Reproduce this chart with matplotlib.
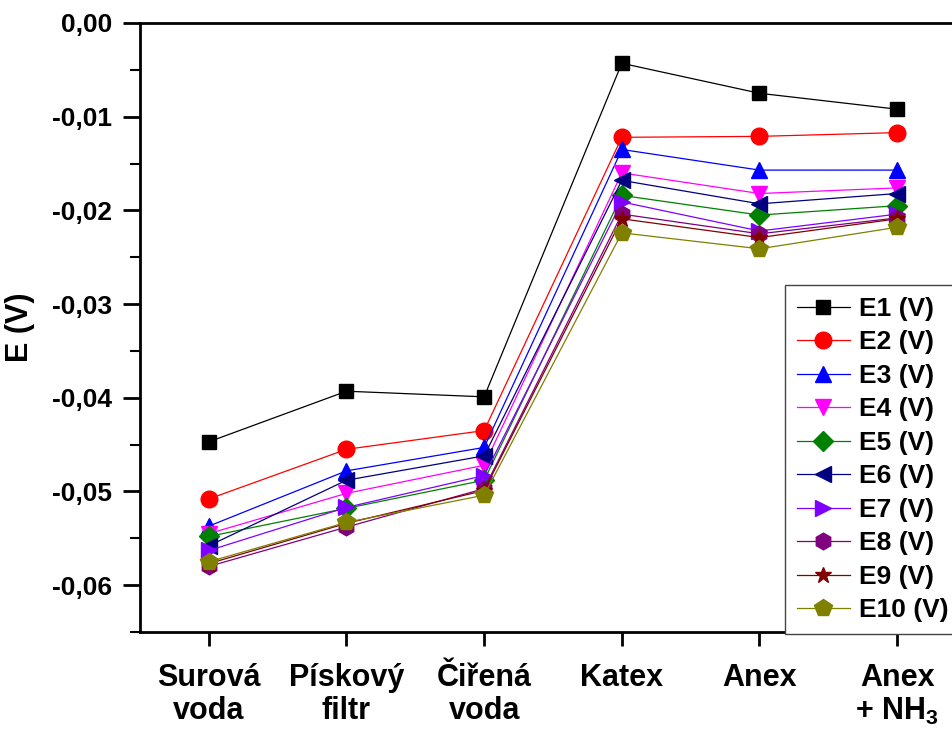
import matplotlib
matplotlib.use("Agg")
import matplotlib.pyplot as plt
from matplotlib.ticker import FixedLocator, MultipleLocator, FuncFormatter

plt.rcParams['font.family'] = ['Liberation Sans', 'DejaVu Sans']
plt.rcParams['font.weight'] = 'bold'
plt.rcParams['mathtext.fontset'] = 'custom'
plt.rcParams['mathtext.rm'] = 'Liberation Sans:bold'
plt.rcParams['mathtext.it'] = 'Liberation Sans:bold'
plt.rcParams['mathtext.bf'] = 'Liberation Sans:bold'

# Treatment stages along the water line
stages = ["Surová\nvoda", "Pískový\nfiltr", "Čiřená\nvoda", "Katex", "Anex", "Anex\n+ NH$_3$"]

# Electrode potentials (V) at each stage
E1 = [-0.0447, -0.0393, -0.0399, -0.0043, -0.0075, -0.0092]
E2 = [-0.0508, -0.0455, -0.0435, -0.0122, -0.0121, -0.0117]
E3 = [-0.0537, -0.0478, -0.0453, -0.0135, -0.0157, -0.0157]
E4 = [-0.0545, -0.0502, -0.0472, -0.0160, -0.0182, -0.0176]
E5 = [-0.0548, -0.0518, -0.0488, -0.0184, -0.0205, -0.0195]
E6 = [-0.0558, -0.0488, -0.0462, -0.0168, -0.0193, -0.0182]
E7 = [-0.0563, -0.0517, -0.0483, -0.0191, -0.0222, -0.0204]
E8 = [-0.0580, -0.0538, -0.0497, -0.0204, -0.0225, -0.0208]
E9 = [-0.0577, -0.0534, -0.0499, -0.0209, -0.0229, -0.0209]
E10 = [-0.0575, -0.0533, -0.0504, -0.0224, -0.0241, -0.0218]

series = [E1, E2, E3, E4, E5, E6, E7, E8, E9, E10]
names = [f"E{i} (V)" for i in range(1, 11)]
colors = ["#000000", "#ff0000", "#0000ff", "#ff00ff", "#008000",
          "#000080", "#8000ff", "#800080", "#800000", "#808000"]
markers = ["s", "o", "^", "v", "D", "<", ">", "h", "*", "p"]
sizes = [10, 12, 12, 12, 10, 12, 12, 12, 12, 13]

W, H = 953, 734
fig = plt.figure(figsize=(W / 100, H / 100), dpi=100)
ax = fig.add_axes([140 / W, 1 - 632 / H, (966 - 140) / W, (632 - 23) / H])

x = list(range(1, len(stages) + 1))
for vals, name, c, m, s in zip(series, names, colors, markers, sizes):
    ax.plot(x, vals, color=c, lw=0.9, marker=m, ms=s,
            markerfacecolor=c, markeredgecolor=c, label=name)

ax.set_xlim(0.5, 6.5)
ax.set_ylim(-0.065, 0.0)

ax.xaxis.set_major_locator(FixedLocator(x))
ax.set_xticklabels(stages, fontsize=22, fontweight='bold', linespacing=1.15)
ax.yaxis.set_major_locator(MultipleLocator(0.01))
ax.yaxis.set_minor_locator(MultipleLocator(0.005))


def comma_fmt(v, pos):
    if abs(v) < 1e-9:
        return "0,00"
    return f"{v:.2f}".replace(".", ",")


ax.yaxis.set_major_formatter(FuncFormatter(comma_fmt))
ax.tick_params(axis='y', which='major', direction='out', length=12, width=2,
               labelsize=19, pad=8)
ax.tick_params(axis='y', which='minor', direction='out', length=7, width=1.5)
ax.tick_params(axis='x', which='major', direction='out', length=10, width=2,
               pad=12)
ax.tick_params(axis='x', which='minor', bottom=False)
for lab in ax.get_yticklabels():
    lab.set_fontweight('bold')

for sp in ax.spines.values():
    sp.set_linewidth(2)

ax.set_ylabel("E (V)", fontsize=22, fontweight='bold', labelpad=12)

leg = ax.legend(loc='upper left', bbox_to_anchor=(785 / W, 1 - 285 / H),
                bbox_transform=fig.transFigure,
                prop={'weight': 'bold', 'size': 19},
                frameon=True, fancybox=False, edgecolor='#444444',
                framealpha=1, handlelength=2.0, handletextpad=0.35,
                labelspacing=0.36, borderpad=0.45, borderaxespad=0)
leg.get_frame().set_linewidth(1.0)

fig.savefig("out.png", dpi=100)
